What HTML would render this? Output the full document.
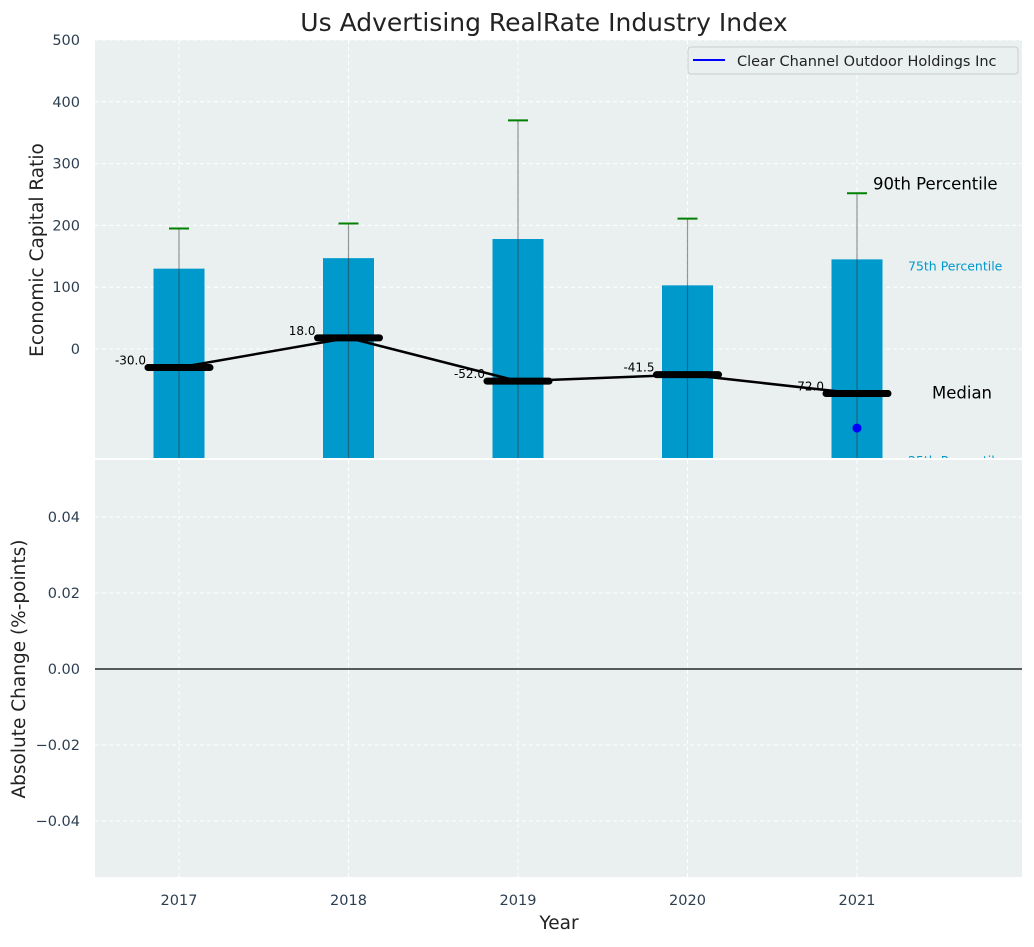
<!DOCTYPE html>
<html><head><meta charset="utf-8"><style>
body{margin:0;background:#fff;font-family:"Liberation Sans","DejaVu Sans",sans-serif}
svg text{font-family:"DejaVu Sans","Liberation Sans",sans-serif}
</style></head><body>
<svg id="c" width="1034" height="942" xmlns="http://www.w3.org/2000/svg">
<rect x="95" y="40" width="927" height="418" fill="#eaeff0"/>
<rect x="95" y="460" width="927" height="417" fill="#eaeff0"/>
<g id="grid"></g><g id="marks"></g><g id="axes"></g>
<text x="544" y="31" font-size="25" text-anchor="middle" fill="#222">Us Advertising RealRate Industry Index</text>
<text transform="translate(43,250) rotate(-90)" font-size="18.5" text-anchor="middle" fill="#222">Economic Capital Ratio</text>
<text transform="translate(25,669) rotate(-90)" font-size="18.5" text-anchor="middle" fill="#222">Absolute Change (%-points)</text>
<text x="559" y="929" font-size="18.5" text-anchor="middle" fill="#222">Year</text>
<g>
<rect x="688" y="47" width="330" height="27" rx="3" fill="#eaeff0" stroke="#ccc"/>
<line x1="693" y1="60" x2="725" y2="60" stroke="#0000ff" stroke-width="2"/>
<text x="737" y="66" font-size="14.5" fill="#222">Clear Channel Outdoor Holdings Inc</text>
</g>
</svg>
<script>
const years=[2017,2018,2019,2020,2021];
const p75=[130,147,178,103,145];
const p90=[195,203,370,211,252];
const medians=[-30,18,-52,-41.5,-72];
const companyYears=[2021];
const companyValues=[-128];
const topTicks=[0,100,200,300,400,500];
const botTicks=[-0.04,-0.02,0,0.02,0.04];
const NS="http://www.w3.org/2000/svg";
const X=v=>179+(v-2017)*169.5;
const Y=v=>349-v*0.618;
const Y2=v=>669-v*3800;
function mk(p,t,a){const e=document.createElementNS(NS,t);for(const k in a)e.setAttribute(k,a[k]);document.getElementById(p).appendChild(e);return e;}
years.forEach(y=>{
 let g=mk('grid','line',{x1:X(y),x2:X(y),y1:40,y2:458,stroke:'#fff','stroke-dasharray':'4,3'});
 
 let g2=mk('grid','line',{x1:X(y),x2:X(y),y1:460,y2:877,stroke:'#fff','stroke-dasharray':'4,3'});
 
 let t=mk('axes','text',{x:X(y),y:905,'font-size':14.5,'text-anchor':'middle',fill:'#2c3e50'});t.textContent=y;
 
});
topTicks.forEach(v=>{
 let g=mk('grid','line',{x1:95,x2:1022,y1:Y(v),y2:Y(v),stroke:'#fff','stroke-dasharray':'4,3'});
 
 let t=mk('axes','text',{x:80,y:Y(v)+5,'font-size':14.5,'text-anchor':'end',fill:'#2c3e50'});t.textContent=v;
 
});
botTicks.forEach(v=>{
 let g=mk('grid','line',{x1:95,x2:1022,y1:Y2(v),y2:Y2(v),stroke:'#fff','stroke-dasharray':'4,3'});
 
 let t=mk('axes','text',{x:80,y:Y2(v)+5,'font-size':14.5,'text-anchor':'end',fill:'#2c3e50'});t.textContent=(v<0?'\u2212':'')+Math.abs(v).toFixed(2);
 
});
let z=mk('axes','line',{x1:95,x2:1022,y1:Y2(0),y2:Y2(0),stroke:'#000','stroke-width':1.2});

years.forEach((y,i)=>{
 let b=mk('marks','rect',{x:X(y)-25.5,y:Y(p75[i]),width:51,height:458-Y(p75[i]),fill:'#0099cc'});
 
 let w=mk('marks','line',{x1:X(y),x2:X(y),y1:Y(p90[i]),y2:458,stroke:'#333','stroke-opacity':0.5,'stroke-width':1.2});
 
 let c=mk('marks','line',{x1:X(y)-10,x2:X(y)+10,y1:Y(p90[i]),y2:Y(p90[i]),stroke:'#008000','stroke-width':2});
 
});
let pts=years.map((y,i)=>X(y)+','+Y(medians[i])).join(' ');
let pl=mk('marks','polyline',{points:pts,fill:'none',stroke:'#000','stroke-width':2.5});

years.forEach((y,i)=>{
 let m=mk('marks','line',{x1:X(y)-31,x2:X(y)+31,y1:Y(medians[i]),y2:Y(medians[i]),stroke:'#000','stroke-width':7,'stroke-linecap':'round'});
 
 let t=mk('marks','text',{x:X(y)-33,y:Y(medians[i])-3,'font-size':12,'text-anchor':'end',fill:'#000'});t.textContent=medians[i].toFixed(1);
 
});
companyYears.forEach((y,i)=>{
 let d=mk('marks','circle',{cx:X(y),cy:Y(companyValues[i]),r:4.5,fill:'#0000ff'});
 
});
const last=years.length-1;
let a1=mk('marks','text',{x:873,y:Y(p90[last])-4,'font-size':16.5,fill:'#000'});a1.textContent='90th Percentile';

let a2=mk('marks','text',{x:908,y:Y(p75[last])+11,'font-size':12.5,fill:'#0099cc'});a2.textContent='75th Percentile';

let a3=mk('marks','text',{x:932,y:Y(medians[last])+5,'font-size':16.5,fill:'#000'});a3.textContent='Median';

let a4=mk('marks','text',{x:908,y:465,'font-size':12.5,fill:'#0099cc','clip-path':'url(#cp)'});a4.textContent='25th Percentile';

const d=document.createElementNS(NS,'defs');d.innerHTML='<clipPath id="cp"><rect x="0" y="0" width="1034" height="458"/></clipPath>';
document.getElementById('c').appendChild(d);
</script>
</body></html>
